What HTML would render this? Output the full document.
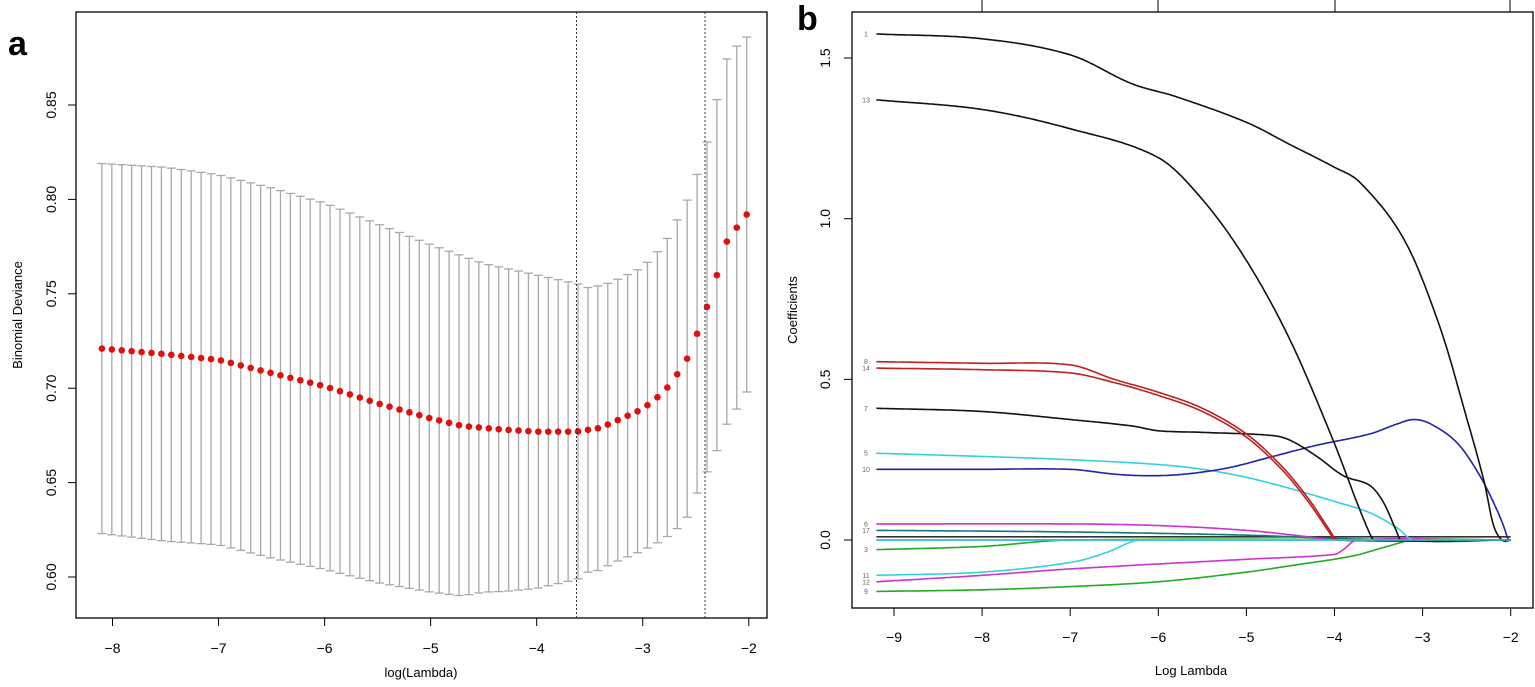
<!DOCTYPE html>
<html><head><meta charset="utf-8"><style>
html,body{margin:0;padding:0;background:#fff;}
svg{display:block;font-family:"Liberation Sans",sans-serif;}
</style></head><body>
<svg id="s" width="1535" height="687" viewBox="0 0 1535 687" xmlns="http://www.w3.org/2000/svg">
<rect width="1535" height="687" fill="#fff"/>
<text x="8" y="55" font-size="34" font-weight="bold">a</text>
<text x="797" y="30" font-size="34" font-weight="bold">b</text>
<rect x="76" y="12" width="691" height="606" fill="none" stroke="#000" stroke-width="1.3"/>
<rect x="852" y="12" width="681" height="596" fill="none" stroke="#000" stroke-width="1.3"/>
<g id="L"></g><g id="R"></g>
<text transform="translate(22,315) rotate(-90)" font-size="13" text-anchor="middle">Binomial Deviance</text>
<text x="421" y="677" font-size="13" text-anchor="middle">log(Lambda)</text>
<text transform="translate(797,310) rotate(-90)" font-size="13" text-anchor="middle">Coefficients</text>
<text x="1191" y="675" font-size="13" text-anchor="middle">Log Lambda</text>
</svg>
<script>
var NS="http://www.w3.org/2000/svg";
function el(p,t,a,txt){var e=document.createElementNS(NS,t);for(var k in a)e.setAttribute(k,a[k]);if(txt!==undefined)e.textContent=txt;p.appendChild(e);return e;}
function interp(pts,x){if(x<=pts[0][0])return pts[0][1];for(var i=1;i<pts.length;i++){if(x<=pts[i][0]){var a=pts[i-1],b=pts[i];var t=(x-a[0])/(b[0]-a[0]);t=t*t*(3-2*t)*0.0+t;return a[1]+(b[1]-a[1])*t;}}return pts[pts.length-1][1];}
// smooth interpolation via Catmull-Rom
function cr(pts,x){var n=pts.length;if(x<=pts[0][0])return pts[0][1];if(x>=pts[n-1][0])return pts[n-1][1];
for(var i=0;i<n-1;i++){if(x<=pts[i+1][0]){var p0=pts[Math.max(i-1,0)],p1=pts[i],p2=pts[i+1],p3=pts[Math.min(i+2,n-1)];
var t=(x-p1[0])/(p2[0]-p1[0]);var h=p2[0]-p1[0];
var m1=(p2[1]-p0[1])/(p2[0]-p0[0]||1)*h,m2=(p3[1]-p1[1])/(p3[0]-p1[0]||1)*h;
var t2=t*t,t3=t2*t;return (2*t3-3*t2+1)*p1[1]+(t3-2*t2+t)*m1+(-2*t3+3*t2)*p2[1]+(t3-t2)*m2;}}}
var L=document.getElementById("L");
function lx(v){return 112.5+(v+8)*106.05;}function ly(v){return 105+(0.85-v)/0.05*94.4;}
// axes ticks
[-8,-7,-6,-5,-4,-3,-2].forEach(function(v){var x=lx(v);el(L,"line",{x1:x,y1:618,x2:x,y2:626,stroke:"#000"});el(L,"text",{x:x,y:653,"font-size":14,"text-anchor":"middle"},"\u2212"+(-v));});
el(L,"line",{x1:lx(-8),y1:626,x2:lx(-2),y2:626,stroke:"#000","stroke-width":0});
[0.60,0.65,0.70,0.75,0.80,0.85].forEach(function(v){var y=ly(v);el(L,"line",{x1:68,y1:y,x2:76,y2:y,stroke:"#000"});el(L,"text",{transform:"translate(56,"+y+") rotate(-90)","font-size":14,"text-anchor":"middle"},v.toFixed(2));});
var mean=[[-8.1,0.721],[-7.5,0.718],[-7,0.715],[-6.5,0.708],[-6,0.701],[-5.5,0.692],[-5,0.684],[-4.7,0.680],[-4.3,0.678],[-4,0.677],[-3.62,0.677],[-3.4,0.679],[-3.2,0.684],[-3,0.689],[-2.8,0.698],[-2.6,0.713],[-2.5,0.727],[-2.4,0.742],[-2.3,0.760],[-2.2,0.779],[-2.1,0.786],[-2.02,0.792]];
var up=[[-8.1,0.819],[-7.5,0.817],[-7,0.813],[-6.5,0.806],[-6,0.798],[-5.5,0.787],[-5,0.776],[-4.5,0.766],[-4,0.760],[-3.6,0.755],[-3.5,0.753],[-3.3,0.756],[-3,0.764],[-2.8,0.776],[-2.6,0.797],[-2.5,0.811],[-2.4,0.829],[-2.3,0.853],[-2.2,0.876],[-2.1,0.882],[-2.02,0.886]];
var N=66;var dots=[];
for(var i=0;i<N;i++){var v=-8.1+i*(6.08/(N-1));var m=interp(mean,v),u=interp(up,v),lo=2*m-u;var x=lx(v);
el(L,"line",{x1:x,y1:ly(u),x2:x,y2:ly(lo),stroke:"#a8a8a8","stroke-width":1.3});
el(L,"line",{x1:x-4.5,y1:ly(u),x2:x+4.5,y2:ly(u),stroke:"#a8a8a8","stroke-width":1.3});
el(L,"line",{x1:x-4.5,y1:ly(lo),x2:x+4.5,y2:ly(lo),stroke:"#a8a8a8","stroke-width":1.3});
dots.push([x,ly(m)]);}
dots.forEach(function(d){el(L,"circle",{cx:d[0],cy:d[1],r:3.3,fill:"#e0100f"});});
[576.5,705].forEach(function(x){el(L,"line",{x1:x,y1:12,x2:x,y2:618,stroke:"#333","stroke-width":1,"stroke-dasharray":"2,2"});});
// right
var R=document.getElementById("R");
function rx(v){return 894+(v+9)*88.1;}function ry(v){return 540-321.3*v;}
[-9,-8,-7,-6,-5,-4,-3,-2].forEach(function(v){var x=rx(v);el(R,"line",{x1:x,y1:608,x2:x,y2:616,stroke:"#000"});el(R,"text",{x:x,y:642,"font-size":14,"text-anchor":"middle"},"\u2212"+(-v));});
[982,1158,1335,1510].forEach(function(x){el(R,"line",{x1:x,y1:0,x2:x,y2:12,stroke:"#000"});});
[0,0.5,1.0,1.5].forEach(function(v){var y=ry(v);el(R,"line",{x1:844,y1:y,x2:852,y2:y,stroke:"#000"});el(R,"text",{transform:"translate(830,"+y+") rotate(-90)","font-size":14,"text-anchor":"middle"},v.toFixed(1));});
function curve(pts,col,lab){var s="";var x0=-9.2;for(var v=x0;v<=-2.0;v+=0.02){var y=cr(pts,v);s+=(s?" ":"")+rx(v).toFixed(1)+","+ry(y).toFixed(1);}
el(R,"polyline",{points:s,fill:"none",stroke:col,"stroke-width":1.6});
if(lab)el(R,"text",{x:866,y:ry(pts[0][1])+2.5,"font-size":7,fill:"#666","text-anchor":"middle"},lab);}
curve([[-9.2,0.01],[-2,0.01]],"#333","");
curve([[-9.2,0],[-2,0]],"#1a1aaa","");
curve([[-9.2,-0.03],[-8,-0.02],[-7,0],[-2,0]],"#22aa22","3");
curve([[-9.2,-0.11],[-8,-0.1],[-7,-0.07],[-6.6,-0.04],[-6.3,-0.005],[-6.2,0],[-2,0]],"#33d0dd","11");
curve([[-9.2,-0.13],[-8,-0.11],[-7,-0.09],[-5,-0.06],[-4,-0.045],[-3.9,-0.03],[-3.75,0],[-2,0]],"#cc33cc","12");
curve([[-9.2,-0.16],[-8,-0.155],[-7,-0.145],[-6,-0.13],[-5,-0.1],[-4.5,-0.08],[-3.8,-0.05],[-3.4,-0.02],[-3.1,0],[-2,0]],"#22aa22","9");
curve([[-9.2,0.03],[-7,0.025],[-5,0.015],[-4,0.005],[-3.1,0],[-2,0]],"#117777","17");
curve([[-9.2,0.05],[-7,0.05],[-6,0.045],[-5,0.03],[-4.3,0.01],[-4,0],[-2,0]],"#cc33cc","6");
curve([[-9.2,0.27],[-8,0.26],[-7,0.25],[-6,0.235],[-5.5,0.22],[-5,0.195],[-4.5,0.16],[-4,0.12],[-3.6,0.085],[-3.3,0.04],[-3.1,0],[-2,0]],"#33d0dd","5");
curve([[-9.2,0.22],[-8,0.22],[-7,0.22],[-6.5,0.205],[-6.1,0.2],[-5.7,0.205],[-5.2,0.225],[-4.7,0.26],[-4.2,0.295],[-3.6,0.33],[-3.3,0.36],[-3.1,0.375],[-2.9,0.36],[-2.6,0.3],[-2.35,0.2],[-2.15,0.09],[-2.05,0.02],[-2.03,0],[-2,0]],"#2222aa","10");
curve([[-9.2,0.41],[-8,0.40],[-7,0.375],[-6.3,0.355],[-6,0.34],[-5.5,0.335],[-4.7,0.325],[-4.5,0.31],[-4.2,0.26],[-3.9,0.2],[-3.6,0.17],[-3.45,0.12],[-3.3,0.03],[-3.25,0],[-2,0]],"#111","7");
curve([[-9.2,0.535],[-8,0.53],[-7,0.52],[-6.5,0.49],[-6,0.45],[-5.5,0.4],[-5,0.32],[-4.6,0.22],[-4.3,0.12],[-4.05,0.02],[-4.0,0],[-2,0]],"#c02020","14");
curve([[-9.2,0.555],[-8,0.55],[-7,0.545],[-6.5,0.5],[-6,0.46],[-5.5,0.41],[-5,0.33],[-4.6,0.23],[-4.3,0.13],[-4.03,0.02],[-3.98,0],[-2,0]],"#c02020","8");
curve([[-9.2,1.37],[-8,1.34],[-7,1.28],[-6,1.19],[-5.5,1.06],[-5,0.87],[-4.5,0.62],[-4,0.3],[-3.75,0.12],[-3.6,0.02],[-3.55,0],[-2,0]],"#111","13");
curve([[-9.2,1.575],[-8,1.56],[-7,1.51],[-6.3,1.42],[-5.8,1.38],[-5,1.30],[-4.5,1.23],[-4,1.16],[-3.7,1.11],[-3.2,0.93],[-2.8,0.66],[-2.5,0.38],[-2.3,0.18],[-2.2,0.05],[-2.1,0],[-2,0]],"#111","1");
curve([[-9.2,0],[-3.2,0],[-2,0]],"#33d0dd","");
</script>
</body></html>
